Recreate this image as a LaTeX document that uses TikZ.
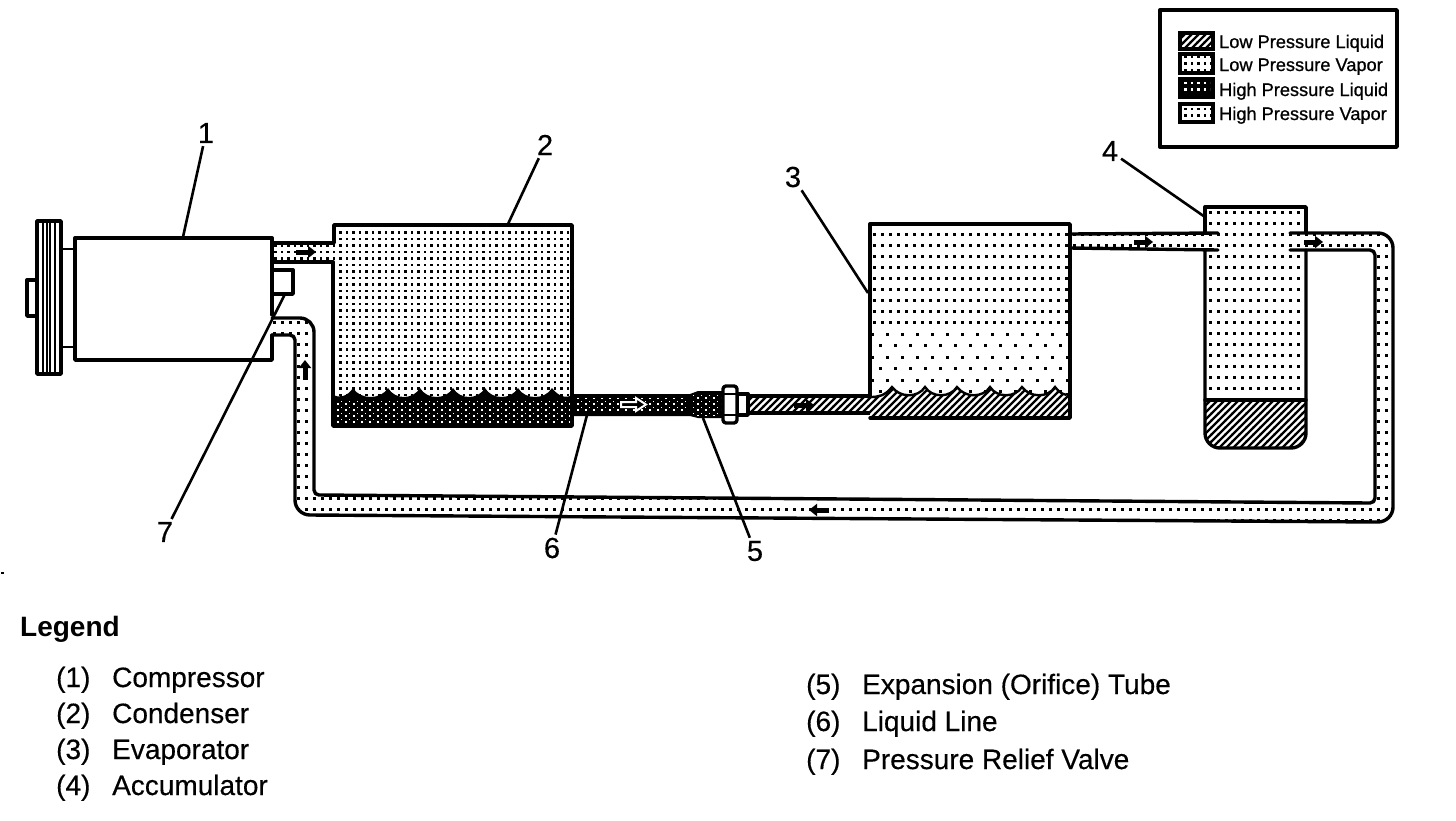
\documentclass[tikz,border=0pt]{standalone}
\usepackage{fontspec}
\setmainfont{Liberation Sans}
\newfontfamily\hvy[FakeBold=0.35]{Liberation Sans}
\newfontfamily\hvykey[FakeBold=0.8]{Liberation Sans}
\usetikzlibrary{patterns,arrows.meta}
\pgfdeclarepatternformonly{hpvap}{\pgfqpoint{-1pt}{-1pt}}{\pgfqpoint{7pt}{7pt}}{\pgfqpoint{6.5pt}{6.5pt}}{%
  \pgfpathrectangle{\pgfqpoint{1pt}{1pt}}{\pgfqpoint{2.6pt}{2.6pt}}\pgfusepath{fill}}
\pgfdeclarepatternformonly{lpvap}{\pgfqpoint{-1pt}{-1pt}}{\pgfqpoint{9pt}{12pt}}{\pgfqpoint{8pt}{11pt}}{%
  \pgfpathrectangle{\pgfqpoint{1pt}{1pt}}{\pgfqpoint{3pt}{3pt}}\pgfusepath{fill}}
\pgfdeclarepatternformonly{evap}{\pgfqpoint{-1pt}{-1pt}}{\pgfqpoint{16pt}{24pt}}{\pgfqpoint{15pt}{23pt}}{%
  \pgfpathrectangle{\pgfqpoint{1pt}{1pt}}{\pgfqpoint{3.4pt}{3.4pt}}\pgfusepath{fill}
  \pgfpathrectangle{\pgfqpoint{8.5pt}{12.5pt}}{\pgfqpoint{3.4pt}{3.4pt}}\pgfusepath{fill}}
\pgfdeclarepatternformonly{hpliq}{\pgfqpoint{-1pt}{-1pt}}{\pgfqpoint{9pt}{7pt}}{\pgfqpoint{8pt}{6pt}}{%
  \pgfpathrectangle{\pgfqpoint{1pt}{1pt}}{\pgfqpoint{1.6pt}{1.6pt}}\pgfusepath{fill}
  \pgfpathrectangle{\pgfqpoint{4.5pt}{4pt}}{\pgfqpoint{1.2pt}{1.2pt}}\pgfusepath{fill}}
\pgfdeclarepatternformonly{lpliq}{\pgfqpoint{-1pt}{-1pt}}{\pgfqpoint{8pt}{8pt}}{\pgfqpoint{7pt}{7pt}}{%
  \pgfsetlinewidth{2.2pt}\pgfsetrectcap
  \pgfpathmoveto{\pgfqpoint{-1pt}{-1pt}}\pgfpathlineto{\pgfqpoint{8pt}{8pt}}\pgfusepath{stroke}}
\tikzset{
  x=1pt,y=-1pt,
  wall/.style={line width=3.4pt,line join=round,line cap=round},
  thinwall/.style={line width=2.2pt,line join=round},
  leader/.style={line width=2.6pt,shorten <=1pt},
  dothp/.style={pattern=hpvap},
  dotlp/.style={pattern=lpvap},
  dotev/.style={pattern=evap},
  hatch/.style={pattern=lpliq},
  darkfill/.style={pattern=hpliq,pattern color=white},
  flow/.style={line width=5pt,-{Triangle[length=8pt,width=12pt]}},
  num/.style={font=\fontsize{29}{29}\hvy\selectfont,inner sep=2pt},
  txt/.style={font=\fontsize{28}{30}\hvy\selectfont,anchor=base west,inner sep=0pt},
  head/.style={font=\fontsize{28}{30}\selectfont\bfseries,anchor=base west,inner sep=0pt},
  keytxt/.style={font=\fontsize{18.2}{19}\hvykey\selectfont,anchor=base west,inner sep=0pt},
  swatch/.style={line width=4pt}
}
\begin{document}
\begin{tikzpicture}
\useasboundingbox (0,0) rectangle (1456,820);
\fill[white] (0,0) rectangle (1456,820);

% --- compressor
\draw[thinwall,line width=2.8pt] (61,249) -- (75,249) (60,347) -- (75,347);
\draw[wall] (37,221) rectangle (61,374);
\draw[thinwall] (43,221) -- (43,374) (47,221) -- (47,374) (50,221) -- (50,374) (55,221) -- (55,374);
\draw[wall] (37,280) -- (27,280) -- (27,316) -- (37,316);
\draw[wall] (272,315) -- (272,238) -- (75,238) -- (75,360) -- (272,360) -- (272,335);
\draw[wall] (272,270) -- (293,270) -- (293,294) -- (272,294);

% --- condenser
\fill[dothp] (272,244) -- (334,244) -- (334,225) -- (572,225) -- (572,396) -- (334,396) -- (334,261) -- (272,261) -- cycle;
\fill[black] (333,395) -- (333,426) -- (572,426) -- (572,395)
  .. controls (566,399) and (558,396) .. (552,388)
  .. controls (545,400) and (525,400) .. (518,388)
  .. controls (511,400) and (492,400) .. (485,388)
  .. controls (478,400) and (460,400) .. (453,388)
  .. controls (446,400) and (427,400) .. (420,388)
  .. controls (413,400) and (395,400) .. (388,388)
  .. controls (381,400) and (360,400) .. (353,388)
  .. controls (347,397) and (339,398) .. (333,395) -- cycle;
\fill[darkfill] (336,401) rectangle (570,423);
\draw[wall] (273,243) -- (334,243) -- (334,225) -- (572,225) -- (572,426) -- (333,426) -- (333,262) -- (273,262);

% --- liquid line and orifice tube
\fill[black] (572,394) -- (690,394) -- (698,391) -- (723,391) -- (723,418) -- (698,418) -- (690,416) -- (572,416) -- cycle;
\fill[darkfill] (574,398) rectangle (688,412);
\fill[darkfill] (692,395) rectangle (721,415);
\draw[white,line width=2pt,fill=black] (621,402) -- (636,402) -- (636,398) -- (646,404.5) -- (636,411) -- (636,407) -- (621,407) -- cycle;
\fill[white] (748,397) rectangle (870,413);
\fill[hatch] (748,397) rectangle (870,413);
\draw[wall] (748,396) -- (870,396) (748,413) -- (870,413);
\draw[wall,fill=white] (737,394) rectangle (748,415);
\draw[wall,fill=white,rounded corners=3pt] (723,386) rectangle (737,423);
\draw[thinwall,line width=2.8pt] (723,394) -- (737,394) (723,415) -- (737,415);

% --- evaporator
\fill[dotlp] (870,224) rectangle (1069,330);
\fill[dotev] (870,331) rectangle (1069,392);
\fill[white] (870,397) -- (870,418) -- (1069,418) -- (1069,394)
  .. controls (1064,396) and (1060,393) .. (1055,387)
  .. controls (1048,398) and (1030,398) .. (1022,387)
  .. controls (1015,398) and (997,398) .. (990,387)
  .. controls (983,398) and (965,398) .. (957,387)
  .. controls (950,398) and (932,398) .. (925,387)
  .. controls (918,398) and (900,398) .. (892,387)
  .. controls (885,396) and (878,397) .. (870,397) -- cycle;
\fill[hatch] (870,397) -- (870,418) -- (1069,418) -- (1069,394)
  .. controls (1064,396) and (1060,393) .. (1055,387)
  .. controls (1048,398) and (1030,398) .. (1022,387)
  .. controls (1015,398) and (997,398) .. (990,387)
  .. controls (983,398) and (965,398) .. (957,387)
  .. controls (950,398) and (932,398) .. (925,387)
  .. controls (918,398) and (900,398) .. (892,387)
  .. controls (885,396) and (878,397) .. (870,397) -- cycle;
\draw[line width=2.4pt] (870,397)
  .. controls (878,397) and (885,396) .. (892,387)
  .. controls (900,398) and (918,398) .. (925,387)
  .. controls (932,398) and (950,398) .. (957,387)
  .. controls (965,398) and (983,398) .. (990,387)
  .. controls (997,398) and (1015,398) .. (1022,387)
  .. controls (1030,398) and (1048,398) .. (1055,387)
  .. controls (1060,393) and (1064,396) .. (1069,394);
\draw[wall] (870,396) -- (870,224) -- (1070,224) -- (1070,418) -- (870,418);

% --- accumulator and suction tube
\fill[dotlp] (1070,235) rectangle (1205,248);
\fill[dotlp] (1206,208) rectangle (1306,400);
\fill[hatch] (1206,400) -- (1306,400) -- (1306,433) arc[start angle=0,end angle=90,radius=15] -- (1221,448) arc[start angle=90,end angle=180,radius=15] -- cycle;
\draw[wall] (1070,234) -- (1218,233) (1070,248) -- (1218,250);
\draw[wall] (1205,233) -- (1205,207) -- (1306,207) -- (1306,233);
\draw[wall] (1205,250) -- (1205,433) arc[start angle=180,end angle=90,radius=15] -- (1291,448) arc[start angle=90,end angle=0,radius=15] -- (1306,250);
\draw[wall] (1205,400) -- (1306,400);

% --- return loop
\fill[dotlp] (1306,234) -- (1378,234) arc[start angle=-90,end angle=0,radius=15] -- (1392,507) arc[start angle=0,end angle=90,radius=15] -- (310,514) arc[start angle=90,end angle=180,radius=15] -- (296,340) -- (290,336) -- (272,336) -- (272,319) -- (300,319) arc[start angle=-90,end angle=0,radius=13] -- (313,490) -- (319,496) -- (1370,504) -- (1374,498) -- (1374,255) -- (1370,249) -- (1306,249) -- cycle;
\draw[wall] (272,318) -- (300,318) arc[start angle=-90,end angle=0,radius=14] -- (314,490) arc[start angle=180,end angle=90,radius=5] -- (1370,503) arc[start angle=90,end angle=0,radius=5] -- (1375,255) arc[start angle=0,end angle=-90,radius=5] -- (1290,250);
\draw[wall] (272,335) -- (290,335) arc[start angle=-90,end angle=0,radius=5] -- (295,500) arc[start angle=180,end angle=90,radius=15] -- (1378,522) arc[start angle=90,end angle=0,radius=15] -- (1393,248) arc[start angle=0,end angle=-90,radius=15] -- (1290,233);

% --- flow arrows
\draw[flow] (296,252) -- (316,252);
\draw[flow] (1134,242) -- (1153,242);
\draw[flow] (1304,242) -- (1323,242);
\draw[flow] (305,380) -- (305,360);
\draw[flow] (829,510) -- (809,510);
\draw[flow] (794,405) -- (814,405);

% --- callouts
\node[num] (n1) at (206,133) {1};
\node[num] (n2) at (545,145) {2};
\node[num] (n3) at (793,177) {3};
\node[num] (n4) at (1110,151) {4};
\node[num] (n5) at (755,551) {5};
\node[num] (n6) at (552,548) {6};
\node[num] (n7) at (165,532) {7};
\coordinate (c1) at (183,237);
\coordinate (c2) at (508,224);
\coordinate (c3) at (868,293);
\coordinate (c4) at (1205,217);
\coordinate (c5) at (703,418);
\coordinate (c6) at (587,415);
\coordinate (c7) at (285,294);
\draw[leader] (n1) -- (c1);
\draw[leader] (n2) -- (c2);
\draw[leader] (n3) -- (c3);
\draw[leader] (n4) -- (c4);
\draw[leader] (n5) -- (c5);
\draw[leader] (n6) -- (c6);
\draw[leader] (n7) -- (c7);

% --- key box
\draw[wall] (1160,10) rectangle (1397,147);
\draw[swatch,fill=white] (1180,33) rectangle (1213,49);
\fill[hatch] (1180,33) rectangle (1213,49);
\draw[swatch] (1180,54) rectangle (1213,73);
\fill[dothp] (1182,56) rectangle (1211,71);
\draw[swatch,fill=black] (1180,79) rectangle (1213,97);
\fill[pattern=hpvap,pattern color=white] (1183,82) rectangle (1210,94);
\draw[swatch] (1180,104) rectangle (1213,122);
\fill[dothp] (1182,106) rectangle (1211,120);
\node[keytxt] (k1) at (1219,48) {Low Pressure Liquid};
\node[keytxt] (k2) at (1219,71) {Low Pressure Vapor};
\node[keytxt] (k3) at (1219,96) {High Pressure Liquid};
\node[keytxt] (k4) at (1219,120) {High Pressure Vapor};

% --- legend text
\node[head] (lg) at (20,636) {Legend};
\node[txt] (a1) at (56,687) {(1)};
\node[txt] (b1) at (112,687) {Compressor};
\node[txt] (a2) at (56,723) {(2)};
\node[txt] (b2) at (112,723) {Condenser};
\node[txt] (a3) at (56,759) {(3)};
\node[txt] (b3) at (112,759) {Evaporator};
\node[txt] (a4) at (56,795) {(4)};
\node[txt] (b4) at (112,795) {Accumulator};
\node[txt] (a5) at (806,694) {(5)};
\node[txt] (b5) at (862,694) {Expansion (Orifice) Tube};
\node[txt] (a6) at (806,731) {(6)};
\node[txt] (b6) at (862,731) {Liquid Line};
\node[txt] (a7) at (806,769) {(7)};
\node[txt] (b7) at (862,769) {Pressure Relief Valve};
\fill (1,572) rectangle (4,574);
\end{tikzpicture}
\end{document}
